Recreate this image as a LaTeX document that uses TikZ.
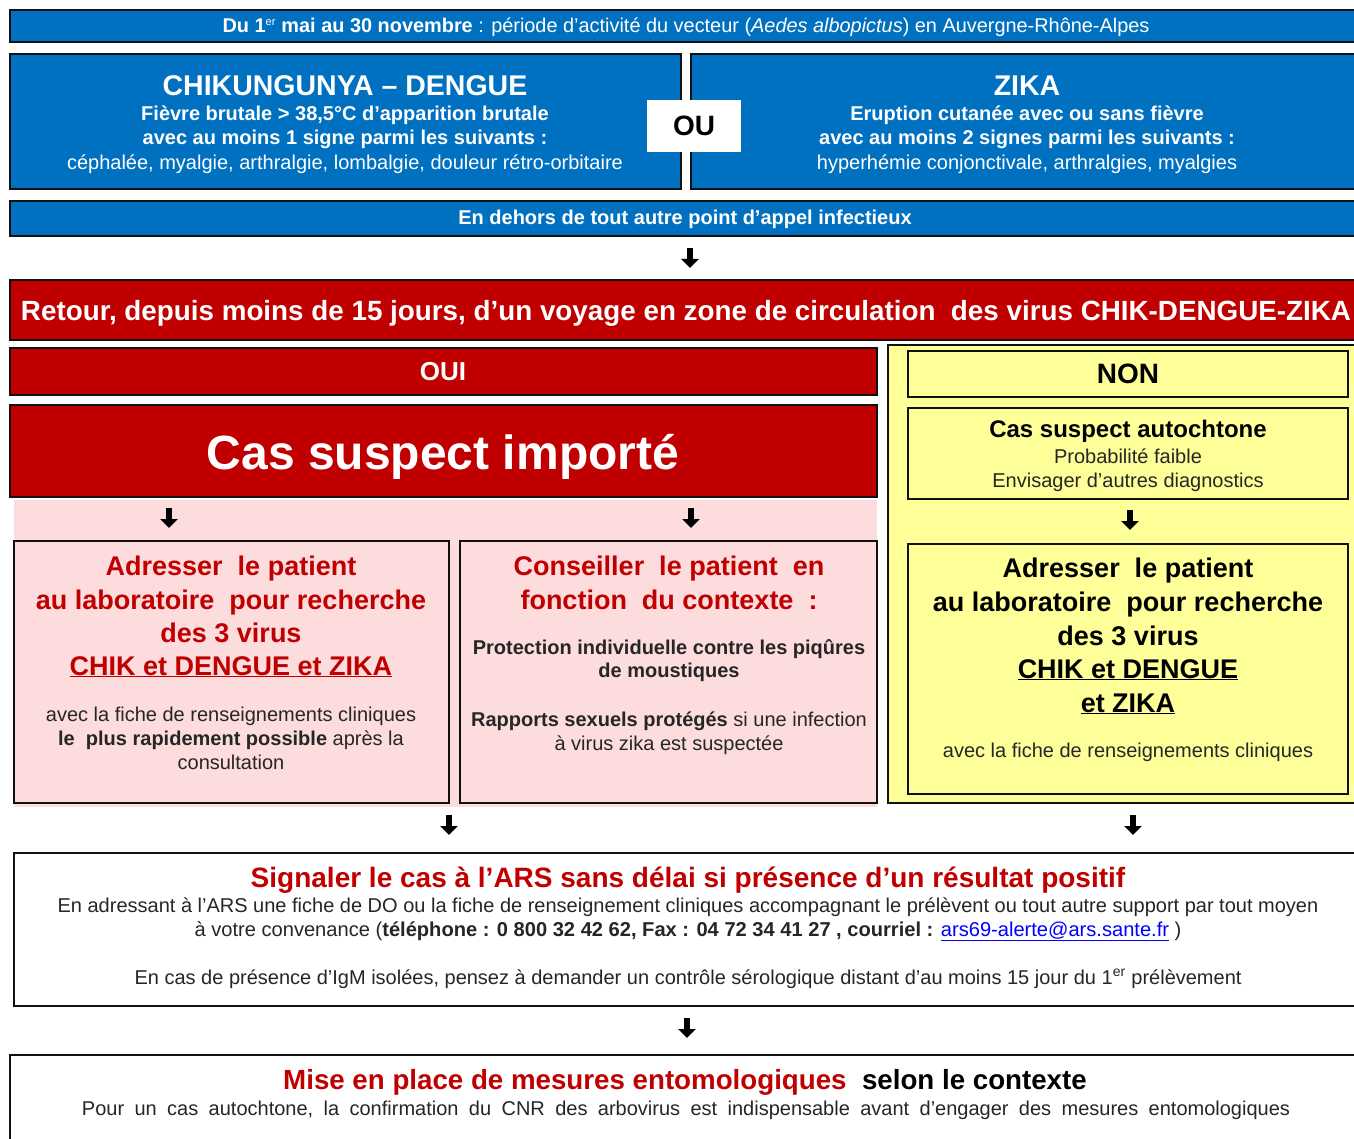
\documentclass[tikz,border=0pt]{standalone}
\usepackage{fontspec}
\setmainfont{Liberation Sans}
\usetikzlibrary{arrows.meta,calc}
\definecolor{cblue}{HTML}{0070C0}
\definecolor{cred}{HTML}{C00000}
\definecolor{cpink}{HTML}{FCDCDC}
\definecolor{cyel}{HTML}{FFFF99}
\definecolor{boxline}{HTML}{111111}
\definecolor{ctxt}{HTML}{262626}
\definecolor{clink}{HTML}{0000FF}
\newcommand\mybox[6]{\node[#1, minimum width={#4-#2}, minimum height={#5-#3}] (#6) at (#2,#3) {};}
\tikzset{
  box/.style={draw=boxline, line width=1.8pt, anchor=north west, inner sep=0pt, outer sep=0pt},
  bluebox/.style={box, fill=cblue},
  redbox/.style={box, fill=cred},
  pinkbox/.style={box, fill=cpink},
  yelbox/.style={box, fill=cyel},
  whitebox/.style={box, fill=white},
  txt/.style={anchor=base, inner sep=0pt, text=ctxt, font=\fontsize{20}{24}\selectfont},
  btxt/.style={txt, font=\fontsize{20}{24}\selectfont\bfseries},
  wtxt/.style={txt, text=white},
  bigtitle/.style={font=\fontsize{28}{32}\selectfont\bfseries},
  subtitle/.style={font=\fontsize{27}{31}\selectfont\bfseries},
  bigarrow/.style={line width=5.5pt, -{Triangle[width=17pt,length=9pt]}, black},
}
\begin{document}
\begin{tikzpicture}[x=1pt,y=-1pt]
\useasboundingbox[fill=white] (0,0) rectangle (1354,1139);
\clip (0,0) rectangle (1354,1139);

% ---------- boxes ----------
\mybox{bluebox}{10}{10}{1370}{42}{top}
\mybox{bluebox}{10}{54}{681}{189}{chik}
\mybox{bluebox}{691}{54}{1370}{189}{zika}
\node[fill=white, inner sep=0pt, minimum width=94, minimum height=52] (ou) at (694,126) {};
\mybox{bluebox}{10}{201}{1370}{236}{dehors}
\mybox{redbox}{10}{280}{1370}{340}{retour}
\mybox{redbox}{10}{348}{877}{395}{oui}
\mybox{redbox}{10}{405}{877}{497}{casimp}
\node[fill=cpink, anchor=north west, inner sep=0pt, minimum width=863, minimum height=307] (pinkbg) at (14,500) {};
\mybox{pinkbox}{14}{541}{449}{803}{pinkL}
\mybox{pinkbox}{460}{541}{877}{803}{pinkM}
\mybox{yelbox}{888}{345}{1370}{803}{yellow}
\mybox{yelbox}{908}{351}{1348}{397}{non}
\mybox{yelbox}{908}{408}{1348}{499}{autoch}
\mybox{yelbox}{908}{544}{1348}{794}{adrY}
\mybox{whitebox}{14}{853}{1370}{1006}{signal}
\mybox{whitebox}{10}{1055}{1370}{1160}{mise}

% ---------- texts ----------
\node[wtxt, font=\fontsize{19.9}{24}\selectfont] (ttop) at (686,33) {\textbf{Du 1\textsuperscript{\fontsize{11}{11}\selectfont\mdseries er} mai au 30 novembre} : période d’activité du vecteur (\textit{Aedes albopictus}) en Auvergne-Rhône-Alpes};

\node[wtxt, font=\fontsize{28.5}{32}\selectfont\bfseries] (chik1) at (345,96) {CHIKUNGUNYA – DENGUE};
\node[btxt, text=white] (chik2) at (345,121) {Fièvre brutale > 38,5°C d’apparition brutale};
\node[btxt, text=white] (chik3) at (345,145) {avec au moins 1 signe parmi les suivants :};
\node[wtxt] (chik4) at (345,170) {céphalée, myalgie, arthralgie, lombalgie, douleur rétro-orbitaire};

\node[wtxt, font=\fontsize{28.5}{32}\selectfont\bfseries] (zika1) at (1027,96) {ZIKA};
\node[btxt, text=white] (zika2) at (1027,121) {Eruption cutanée avec ou sans fièvre};
\node[btxt, text=white] (zika3) at (1027,145) {avec au moins 2 signes parmi les suivants :};
\node[wtxt] (zika4) at (1027,170) {hyperhémie conjonctivale, arthralgies, myalgies};

\node[txt, text=black, bigtitle] (out) at (ou.center |- 0,136) {OU};

\node[btxt, text=white] (tdehors) at (685,225) {En dehors de tout autre point d’appel infectieux};

\node[wtxt, font=\fontsize{27.8}{32}\selectfont\bfseries] (tretour) at (686,321) {Retour, depuis moins de 15 jours, d’un voyage en zone de circulation\ \ des virus CHIK-DENGUE-ZIKA};

\node[wtxt, font=\fontsize{26}{30}\selectfont\bfseries] (toui) at (443,381) {OUI};
\node[wtxt, font=\fontsize{48}{52}\selectfont\bfseries] (tcas) at (443,469) {Cas suspect importé};

% left pink
\node[txt, text=cred, subtitle] (l1) at (231,575) {Adresser\ \ le patient};
\node[txt, text=cred, subtitle] (l2) at (231,609) {au laboratoire\ \ pour recherche};
\node[txt, text=cred, subtitle] (l3) at (231,642) {des 3 virus};
\node[txt, text=cred, subtitle] (l4) at (231,675) {\underline{CHIK et DENGUE et ZIKA}};
\node[txt] (l5) at (231,721) {avec la fiche de renseignements cliniques};
\node[txt] (l6) at (231,745) {\textbf{le\ \ plus rapidement possible} après la};
\node[txt] (l7) at (231,769) {consultation};

% middle pink
\node[txt, text=cred, subtitle] (m1) at (669,575) {Conseiller\ \ le patient\ \ en};
\node[txt, text=cred, subtitle] (m2) at (669,609) {fonction\ \ du contexte\ \ :};
\node[btxt] (m3) at (669,654) {Protection individuelle contre les piqûres};
\node[btxt] (m4) at (669,677) {de moustiques};
\node[txt] (m5) at (669,726) {\textbf{Rapports sexuels protégés} si une infection};
\node[txt] (m6) at (669,750) {à virus zika est suspectée};

% yellow
\node[txt, text=black, font=\fontsize{28}{32}\selectfont\bfseries] (tnon) at (1128,383) {NON};
\node[txt, text=black, font=\fontsize{24}{28}\selectfont\bfseries] (y1) at (1128,437) {Cas suspect autochtone};
\node[txt] (y2) at (1128,463) {Probabilité faible};
\node[txt] (y3) at (1128,487) {Envisager d’autres diagnostics};
\node[txt, text=black, subtitle] (y4) at (1128,577) {Adresser\ \ le patient};
\node[txt, text=black, subtitle] (y5) at (1128,611) {au laboratoire\ \ pour recherche};
\node[txt, text=black, subtitle] (y6) at (1128,645) {des 3 virus};
\node[txt, text=black, subtitle] (y7) at (1128,678) {\underline{CHIK et DENGUE}};
\node[txt, text=black, subtitle] (y8) at (1128,712) {\underline{et ZIKA}};
\node[txt] (y9) at (1128,757) {avec la fiche de renseignements cliniques};

% signaler
\node[txt, text=cred, bigtitle] (s1) at (688,887) {Signaler\ le\ cas à l{\char"0027}ARS sans\ délai\ si\ présence\ d’un\ résultat\ positif};
\node[txt] (s2) at (688,912) {En adressant à l’ARS une fiche de DO ou la fiche de renseignement cliniques accompagnant le prélèvent ou tout autre support par tout moyen};
\node[txt, font=\fontsize{20.1}{24}\selectfont] (s3) at (688,936) {à votre convenance (\textbf{téléphone : 0 800 32 42 62, Fax : 04 72 34 41 27 , courriel :} \textcolor{clink}{\underline{ars69-alerte@ars.sante.fr}} )};
\node[txt] (s4) at (688,984) {En cas de présence d’IgM isolées, pensez à demander un contrôle sérologique distant d’au moins 15 jour du 1\textsuperscript{er} prélèvement};

% mise
\node[txt, text=black, font=\fontsize{27.7}{32}\selectfont\bfseries] (mi1) at (685,1089) {\textcolor{cred}{Mise\ en\ place\ de\ mesures\ entomologiques}\ \ selon le contexte};
\node[txt] (mi2) at (686,1115) {\spaceskip=10.4pt Pour un cas autochtone, la confirmation du CNR des arbovirus est indispensable avant d’engager des mesures entomologiques};

% ---------- arrows ----------
\draw[bigarrow] ($(dehors.south west)+(680,12)$) -- ($(retour.north west)+(680,-12)$);
\draw[bigarrow] ($(casimp.south west)+(159,11)$) -- ($(pinkL.north west)+(155,-13)$);
\draw[bigarrow] ($(casimp.south west)+(681,11)$) -- ($(pinkM.north west)+(231,-13)$);
\draw[bigarrow] ($(autoch.south west)+(222,11)$) -- ($(adrY.north west)+(222,-14)$);
\draw[bigarrow] ($(pinkL.south east)+(0,12)$) -- ($(signal.north west)+(435,-18)$);
\draw[bigarrow] ($(yellow.south west)+(245,12)$) -- ($(signal.north west)+(1119,-18)$);
\draw[bigarrow] ($(signal.south west)+(673,12)$) -- ($(mise.north west)+(677,-17)$);
\end{tikzpicture}
\end{document}
